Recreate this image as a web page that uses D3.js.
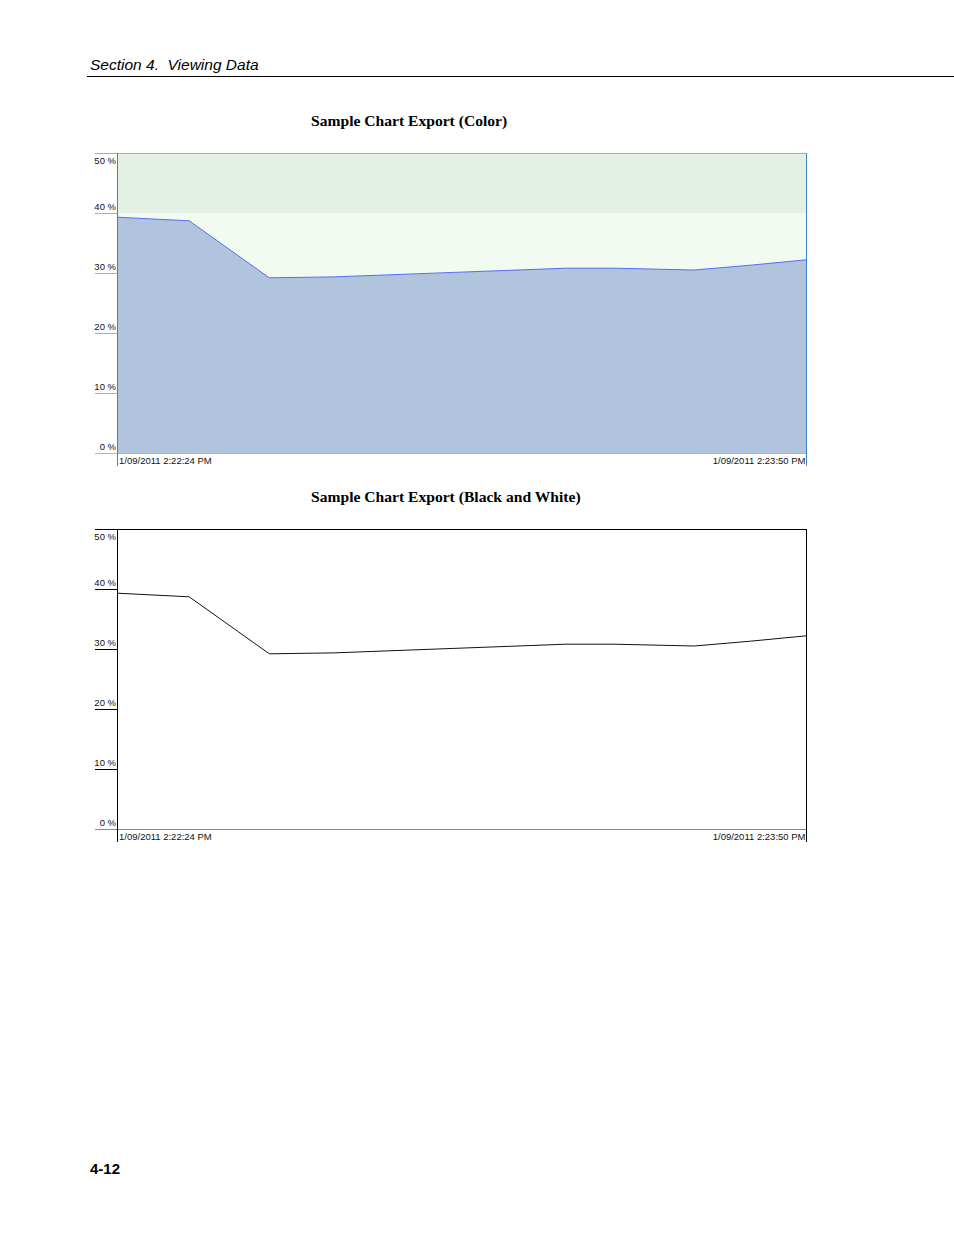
<!DOCTYPE html>
<html lang="en">
<head>
  <meta charset="UTF-8" />
  <title>Sample Chart Export</title>
  <script src="https://d3js.org/d3.v7.min.js"></script>
  <style>
    body {
      background-color: white;
      margin: 0;
    }
    svg {
      display: block;
    }
    text {
      white-space: pre;
    }
    .ticklabel, .datelabel {
      font-family: "Liberation Sans", Arial, sans-serif;
      font-size: 9.5px;
      fill: #111;
    }
  </style>
</head>
<body>
  <svg width="954" height="1235"></svg>

  <script>
    // seconds after 1/09/2011 2:22:24 PM, and the value in %
    const seconds = [0, 9, 19, 27, 42, 56, 62, 72, 79, 86];
    const values  = [39.3, 38.7, 29.2, 29.35, 30.1, 30.8, 30.8, 30.5, 31.3, 32.2];
    const yTicks  = [0, 10, 20, 30, 40, 50];
    const startTime = new Date(2011, 0, 9, 14, 22, 24);
    const endTime   = new Date(2011, 0, 9, 14, 23, 50);
    const dateLabels = ["1/09/2011 2:22:24 PM", "1/09/2011 2:23:50 PM"];

    const data = seconds.map((s, i) => ({
      t: new Date(startTime.getTime() + s * 1000),
      v: values[i]
    }));

    const svg = d3.select("svg");

    svg.append("rect").attr("width", 954).attr("height", 1235).attr("fill", "white");

    // page header
    svg.append("text")
      .attr("x", 90).attr("y", 70)
      .attr("font-family", "Liberation Sans, Arial, sans-serif")
      .attr("font-style", "italic")
      .attr("font-size", 15.5)
      .text("Section 4.  Viewing Data");
    svg.append("line")
      .attr("x1", 87).attr("x2", 954)
      .attr("y1", 76.5).attr("y2", 76.5)
      .attr("stroke", "#000").attr("stroke-width", 1);

    svg.append("text")
      .attr("x", 90).attr("y", 1174)
      .attr("font-family", "Liberation Sans, Arial, sans-serif")
      .attr("font-weight", "bold")
      .attr("font-size", 15)
      .text("4-12");

    function title(y, txt) {
      svg.append("text")
        .attr("x", 311).attr("y", y)
        .attr("font-family", "Liberation Serif, Times New Roman, serif")
        .attr("font-weight", "bold")
        .attr("font-size", 15.6)
        .text(txt);
    }
    title(126, "Sample Chart Export (Color)");
    title(502, "Sample Chart Export (Black and White)");

    function drawChart(top, color) {
      const left = 117, right = 806.5, bottom = top + 300;
      const g = svg.append("g");

      const x = d3.scaleTime().domain([startTime, endTime]).range([left, right]);
      const y = d3.scaleLinear().domain([0, 50]).range([bottom, top]);

      if (color) {
        // background bands
        g.append("rect")
          .attr("x", left).attr("y", y(50))
          .attr("width", right - left).attr("height", y(40) - y(50))
          .attr("fill", "#e5f0e5");
        g.append("rect")
          .attr("x", left).attr("y", y(40))
          .attr("width", right - left).attr("height", y(0) - y(40))
          .attr("fill", "#f2fbf2");

        g.append("path")
          .datum(data)
          .attr("fill", "#b0c4de")
          .attr("d", d3.area().x(d => x(d.t)).y0(y(0)).y1(d => y(d.v)));
      }

      g.append("path")
        .datum(data)
        .attr("fill", "none")
        .attr("stroke", color ? "#5c6cf0" : "#111")
        .attr("stroke-width", 1)
        .attr("d", d3.line().x(d => x(d.t)).y(d => y(d.v)));

      const tickColor = color ? "#8ab6dc" : "#000";

      // tick lines under the labels
      g.selectAll(".tick")
        .data(yTicks)
        .enter().append("line")
        .attr("x1", 95)
        .attr("x2", d => d === 50 ? right : left)
        .attr("y1", d => Math.round(y(d)) + 0.5)
        .attr("y2", d => Math.round(y(d)) + 0.5)
        .attr("stroke", d => d === 0 ? (color ? "#a8b8c8" : "#888") : tickColor)
        .attr("stroke-width", 1);

      // bottom axis line
      g.append("line")
        .attr("x1", left).attr("x2", right)
        .attr("y1", bottom + 0.5).attr("y2", bottom + 0.5)
        .attr("stroke", color ? "#a8b8c8" : "#888");

      g.selectAll(".ticklabel")
        .data(yTicks)
        .enter().append("text")
        .attr("class", "ticklabel")
        .attr("x", left - 1)
        .attr("y", d => d === 50 ? y(d) + 11 : y(d) - 3)
        .attr("text-anchor", "end")
        .text(d => d + " %");

      // left axis and right border
      g.append("line")
        .attr("x1", left + 0.5).attr("x2", left + 0.5)
        .attr("y1", top).attr("y2", bottom + 13)
        .attr("stroke", color ? "#3f82c6" : "#000");
      g.append("line")
        .attr("x1", right).attr("x2", right)
        .attr("y1", top).attr("y2", bottom + 13)
        .attr("stroke", color ? "#3f82c6" : "#000");

      g.append("text")
        .attr("class", "datelabel")
        .attr("x", x(startTime) + 2)
        .attr("y", bottom + 11)
        .text(dateLabels[0]);
      g.append("text")
        .attr("class", "datelabel")
        .attr("x", x(endTime) - 1)
        .attr("y", bottom + 11)
        .attr("text-anchor", "end")
        .text(dateLabels[1]);
    }

    drawChart(153, true);
    drawChart(529, false);
  </script>
</body>
</html>
